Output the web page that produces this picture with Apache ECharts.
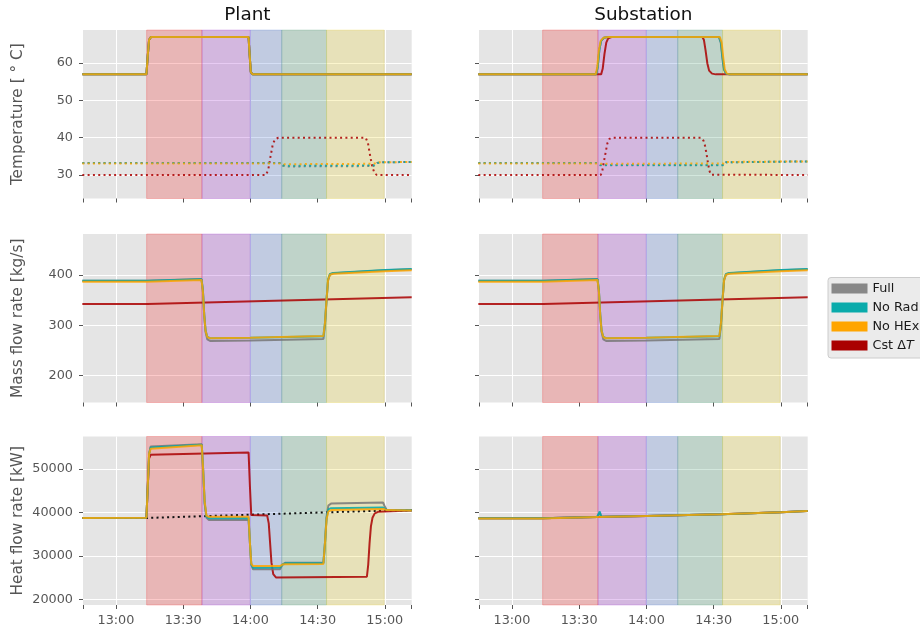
<!DOCTYPE html>
<html><head><meta charset="utf-8">
<script src="https://cdn.jsdelivr.net/npm/echarts@6/dist/echarts.min.js"></script>
<style>html,body{margin:0;padding:0;background:#fff}#c{width:920px;height:632px}</style>
</head><body><div id="c"></div>
<script>
// ---------------- DATA ----------------
const panelTitles = ['Plant', 'Substation'];
const rowNames = ['Temperature [ ° C]', 'Mass flow rate [kg/s]', 'Heat flow rate [kW]'];
const seriesNames = ['Full', 'No Rad', 'No HEx', 'Cst ΔT'];

const xRange = ['12:45.3', '15:12'];
const xTickTimes = ['12:45.3', '13:00', '13:30', '14:00', '14:30', '15:00', '15:12'];
const xLabelTimes = ['13:00', '13:30', '14:00', '14:30', '15:00'];
const xGridTimes = ['13:00', '14:00', '15:00'];

const tempRange = [23.7, 68.9], tempTicks = [30, 40, 50, 60];
const massRange = [146.8, 481.4], massTicks = [200, 300, 400];
const heatRange = [18690, 57510], heatTicks = [20000, 30000, 40000, 50000];

// phase bands (start/end times)
const bandEdges = ['13:13.7', '13:38.4', '14:00', '14:14', '14:34', '14:59.7'];

// Plant supply temperature (all four variants identical)
const plantSupply = [['12:45',57],['13:13.6',57],['13:14.2',62],['13:14.8',66.3],['13:15.6',67],['13:59.2',67],['13:59.7',62],['14:00.2',57.6],['14:01',57],['15:12',57]];
// Plant return temperature
const plantReturnFull  = [['12:45',33.2],['14:13.5',33.2],['14:14.5',32.5],['14:16',32.3],['14:55',32.4],['14:56.5',33.2],['14:58',33.4],['15:12',33.5]];
const plantReturnNoRad = [['12:45',33.2],['14:13.5',33.2],['14:14.5',32.6],['14:16',32.5],['14:55',32.6],['14:56.5',33.2],['14:58',33.4],['15:12',33.5]];
const plantReturnNoHEx = [['12:45',33.1],['14:13.5',33.1],['14:15',32.9],['14:55',33.0],['14:57',33.4],['15:12',33.5]];
const plantReturnCst   = [['12:45',30],['14:07',30],['14:08',31.5],['14:09',35],['14:10',38.2],['14:11',39.6],['14:12.5',40],['14:51.5',40],['14:52.5',38.5],['14:53.5',35],['14:54.5',32],['14:55.5',30.4],['14:56.5',30],['15:12',30]];

// Substation supply temperature
const subSupplyFull  = [['12:45',57],['13:37.6',57],['13:38.3',59],['13:39',63.5],['13:39.8',66],['13:41',66.8],['13:43',67],['14:32.4',67],['14:33.2',65.5],['14:33.9',61.5],['14:34.6',58.3],['14:35.5',57.2],['14:37',57],['15:12',57]];
const subSupplyNoRad = [['12:45',57],['13:37.6',57],['13:38.3',59],['13:39',63.5],['13:39.8',66],['13:41',66.8],['13:43',67],['14:32.5',67],['14:33.3',65.5],['14:34',61.5],['14:34.7',58.3],['14:35.6',57.2],['14:37',57],['15:12',57]];
const subSupplyNoHEx = [['12:45',57],['13:37.4',57],['13:38.1',59],['13:38.8',63.5],['13:39.6',66],['13:40.8',66.8],['13:43',67],['14:32.8',67],['14:33.6',65.5],['14:34.3',61.5],['14:35',58.3],['14:35.9',57.2],['14:37.5',57],['15:12',57]];
const subSupplyCst   = [['12:45',57],['13:39.8',57],['13:40.5',58.5],['13:41.3',62.5],['13:42.1',65.5],['13:43',66.7],['13:44.5',67],['14:25',67],['14:25.7',66.2],['14:26.4',63.5],['14:27.2',60],['14:28',58],['14:29.3',57.2],['14:31',57],['15:12',57]];
// Substation return temperature
const subReturnFull  = [['12:45',33.2],['13:38',33.2],['13:39.5',32.6],['14:34.5',32.6],['14:35.5',33.4],['15:12',33.65]];
const subReturnNoRad = [['12:45',33.2],['13:38',33.2],['13:39.5',32.7],['14:34.5',32.7],['14:35.5',33.4],['15:12',33.65]];
const subReturnNoHEx = [['12:45',33.1],['13:38',33.1],['13:39.5',33.0],['14:34.5',33.1],['14:35.5',33.5],['15:12',33.65]];
const subReturnCst   = [['12:45',30],['13:39.6',30],['13:40.3',31],['13:41',33.5],['13:41.8',36],['13:42.6',38.5],['13:43.5',39.7],['13:44.5',40],['14:24.5',40],['14:25.5',39.2],['14:26.2',37.8],['14:26.9',35.5],['14:27.5',33.2],['14:28.1',31.2],['14:28.8',30.1],['15:12',30]];

// Mass flow rate (plant and substation)
const massFull  = [['12:45',388.7],['13:14',388.7],['13:38.2',392],['13:38.8',370],['13:39.4',320],['13:40',287],['13:40.8',272],['13:42',269],['14:00',269.8],['14:32.6',273],['14:33.3',300],['14:34',350],['14:34.7',390],['14:35.5',401],['14:37',403.5],['15:00',409.5],['15:12',411.5]];
const massNoRad = [['12:45',388.7],['13:14',388.7],['13:38.2',391.5],['13:38.8',370],['13:39.4',322],['13:40',290],['13:40.8',277],['13:42',274.5],['14:00',275.5],['14:32.6',278.5],['14:33.3',305],['14:34',352],['14:34.7',391],['14:35.5',402],['14:37',404],['15:00',410],['15:12',411.8]];
const massNoHEx = [['12:45',386.8],['13:14',386.8],['13:38.2',390],['13:38.8',368],['13:39.4',320],['13:40',289],['13:40.8',276.5],['13:42',274.3],['14:00',275.5],['14:32.6',279],['14:33.3',305],['14:34',352],['14:34.7',390],['14:35.5',400.5],['14:37',402.5],['15:00',407.5],['15:12',409.3]];
const massCst   = [['12:45',342.5],['13:14',342.5],['15:12',356]];

// Plant heat flow rate
const heatDemand  = [['12:45',38750],['13:14',38750],['14:00',39500],['15:00',40450],['15:12',40500]];
const heatFull  = [['12:45',38750],['13:13.6',38800],['13:14.2',46000],['13:14.8',53500],['13:15.5',55200],['13:38.3',55700],['13:38.9',50000],['13:39.6',42000],['13:40.4',38800],['13:41.5',38250],['13:59.2',38300],['13:59.8',33000],['14:00.4',28000],['14:01.2',26900],['14:13.3',26950],['14:14.3',28000],['14:15.5',28400],['14:32.6',28450],['14:33.3',33000],['14:34',39000],['14:34.8',41600],['14:36',42050],['14:59.2',42300],['14:59.9',41500],['15:00.8',40650],['15:12',40500]];
const heatNoRad = [['12:45',38750],['13:13.6',38800],['13:14.2',46000],['13:14.8',53500],['13:15.5',55000],['13:38.3',55600],['13:38.9',50000],['13:39.6',42300],['13:40.4',39100],['13:41.5',38700],['13:59.2',38750],['13:59.8',33000],['14:00.4',28000],['14:01.2',27300],['14:13.3',27350],['14:14.3',28000],['14:15.5',28300],['14:32.6',28350],['14:33.3',33000],['14:34',38700],['14:34.8',40700],['14:36',41000],['14:59.2',41150],['14:59.9',40900],['15:00.8',40600],['15:12',40500]];
const heatNoHEx = [['12:45',38750],['13:13.6',38800],['13:14.2',46000],['13:14.8',53500],['13:15.5',54700],['13:38.3',55500],['13:38.9',50000],['13:39.6',42500],['13:40.4',39300],['13:41.5',39000],['13:59.2',39050],['13:59.8',33000],['14:00.4',28200],['14:01.2',27650],['14:13.3',27700],['14:14.3',28000],['14:15.5',28100],['14:32.6',28150],['14:33.3',33000],['14:34',38500],['14:34.8',40200],['14:36',40550],['14:59.5',40800],['15:00.8',40550],['15:12',40450]];
const heatCst   = [['12:45',38750],['13:13.6',38800],['13:14.2',46000],['13:14.8',52500],['13:15.5',53300],['13:59.2',53800],['13:59.8',46000],['14:00.4',39400],['14:07.5',39300],['14:08.2',37500],['14:08.8',33000],['14:09.4',28500],['14:10.2',25800],['14:11.5',25000],['14:52',25200],['14:52.6',28000],['14:53.2',33000],['14:53.8',36800],['14:54.5',38800],['14:55.5',39800],['14:57',40150],['15:12',40450]];

// Substation heat flow rate
const subHeatFull  = [['12:45',38650],['13:13',38650],['13:38',38970],['13:38.6',39050],['13:39.2',39900],['13:39.9',39000],['14:00',39200],['14:33',39590],['15:00',40050],['15:12',40350]];
const subHeatNoRad = [['12:45',38650],['13:13',38650],['13:38',38970],['13:38.6',39050],['13:39.2',40250],['13:39.9',39000],['14:00',39200],['14:33.2',39600],['14:33.9',39250],['14:34.6',39620],['15:00',40050],['15:12',40350]];
const subHeatNoHEx = [['12:45',38600],['13:13',38600],['13:38',38950],['14:00',39200],['14:33',39590],['15:00',40050],['15:12',40350]];
const subHeatCst   = [['12:45',38650],['13:13',38650],['13:38',38970],['14:00',39200],['14:33',39590],['15:00',40050],['15:12',40350]];

// ---------------- STYLE ----------------
const lineColors = {'Full':'#777777','No Rad':'#00a8a8','No HEx':'#ffa500','Cst ΔT':'#aa0000'};
const legendColors = {'Full':'#888888','No Rad':'#0aabab','No HEx':'#ffa500','Cst ΔT':'#aa0000'};
const bandColors = ['rgba(245,45,45,0.25)','rgba(161,49,209,0.25)','rgba(89,129,217,0.25)','rgba(81,161,121,0.25)','rgba(241,217,57,0.25)'];
const FONT = 'DejaVu Sans';
const TXT = '#555555';

const tm = s => { const p = s.split(':'); return (+p[0]) * 60 + parseFloat(p[1]); };
const fmt = v => { const h = Math.floor(v / 60 + 1e-9); const m = Math.round(v - h * 60); return h + ':' + String(m).padStart(2, '0'); };

const X_MIN = tm(xRange[0]), X_MAX = tm(xRange[1]);
const colLeft = [83, 479], colW = 328.7;
const rowTop = [30, 234, 436.5], rowH = 168.5;
const yRanges = [tempRange, massRange, heatRange];
const yTicks = [tempTicks, massTicks, heatTicks];

const grids = [], xAxes = [], yAxes = [], series = [];
for (let r = 0; r < 3; r++) {
  for (let c = 0; c < 2; c++) {
    const g = r * 2 + c;
    grids.push({left: colLeft[c], top: rowTop[r], width: colW, height: rowH, show: true, backgroundColor: '#E5E5E5', borderWidth: 0});
    xAxes.push({gridIndex: g, type: 'value', min: X_MIN, max: X_MAX, position: 'bottom',
      axisLine: {show: false}, splitLine: {show: false},
      axisTick: {show: true, customValues: xTickTimes.map(tm), length: 4, lineStyle: {color: TXT, width: 1}},
      axisLabel: {show: r === 2, customValues: xLabelTimes.map(tm), formatter: fmt, color: TXT, fontFamily: FONT, fontSize: 12.8, margin: 9}});
    xAxes.push({gridIndex: g, type: 'value', min: X_MIN, max: X_MAX, position: 'top',
      axisLine: {show: false}, axisLabel: {show: false},
      axisTick: {show: false, customValues: xGridTimes.map(tm)},
      splitLine: {show: true, lineStyle: {color: '#ffffff', width: 1}}});
    yAxes.push({gridIndex: g, type: 'value', min: yRanges[r][0], max: yRanges[r][1],
      axisLine: {show: false},
      axisTick: {show: true, customValues: yTicks[r], length: 4, lineStyle: {color: TXT, width: 1}},
      axisLabel: {show: c === 0, customValues: yTicks[r], formatter: v => String(v), color: TXT, fontFamily: FONT, fontSize: 12.8, margin: 10},
      splitLine: {show: true, lineStyle: {color: '#ffffff', width: 1}},
      name: c === 0 ? rowNames[r] : '', nameLocation: 'middle', nameGap: 57,
      nameTextStyle: {color: TXT, fontFamily: FONT, fontSize: 15.3}});
    // phase bands
    const areas = [];
    for (let i = 0; i < bandColors.length; i++) {
      areas.push([{xAxis: tm(bandEdges[i]), itemStyle: {color: bandColors[i], borderColor: bandColors[i], borderWidth: 1}}, {xAxis: tm(bandEdges[i + 1])}]);
    }
    series.push({type: 'line', name: 'bands', xAxisIndex: 2 * g, yAxisIndex: g, data: [], silent: true, z: 1,
      markArea: {silent: true, label: {show: false}, data: areas}});
  }
}

function addLine(name, pts, g, dotted, color) {
  series.push({type: 'line', name: name, xAxisIndex: 2 * g, yAxisIndex: g,
    data: pts.map(p => [tm(p[0]), p[1]]), symbol: 'none', showSymbol: false, silent: true, z: 3,
    color: color || lineColors[name],
    lineStyle: {width: 2, type: dotted ? [2, 3.3] : 'solid', opacity: color ? 1 : 0.85, cap: 'butt'}});
}
// Plant temperature
addLine('Cst ΔT', plantSupply, 0, false); addLine('Full', plantSupply, 0, false);
addLine('No Rad', plantSupply, 0, false); addLine('No HEx', plantSupply, 0, false);
addLine('Cst ΔT', plantReturnCst, 0, true); addLine('Full', plantReturnFull, 0, true);
addLine('No Rad', plantReturnNoRad, 0, true); addLine('No HEx', plantReturnNoHEx, 0, true);
// Substation temperature
addLine('Cst ΔT', subSupplyCst, 1, false); addLine('Full', subSupplyFull, 1, false);
addLine('No Rad', subSupplyNoRad, 1, false); addLine('No HEx', subSupplyNoHEx, 1, false);
addLine('Cst ΔT', subReturnCst, 1, true); addLine('Full', subReturnFull, 1, true);
addLine('No Rad', subReturnNoRad, 1, true); addLine('No HEx', subReturnNoHEx, 1, true);
// Mass flow
for (const g of [2, 3]) {
  addLine('Cst ΔT', massCst, g, false); addLine('Full', massFull, g, false);
  addLine('No Rad', massNoRad, g, false); addLine('No HEx', massNoHEx, g, false);
}
// Heat flow plant
addLine('Demand', heatDemand, 4, true, '#111111');
addLine('Cst ΔT', heatCst, 4, false); addLine('Full', heatFull, 4, false);
addLine('No Rad', heatNoRad, 4, false); addLine('No HEx', heatNoHEx, 4, false);
// Heat flow substation
addLine('Cst ΔT', subHeatCst, 5, false); addLine('Full', subHeatFull, 5, false);
addLine('No Rad', subHeatNoRad, 5, false); addLine('No HEx', subHeatNoHEx, 5, false);

const chart = echarts.init(document.getElementById('c'), null, {renderer: 'canvas'});
chart.setOption({
  animation: false,
  backgroundColor: '#ffffff',
  grid: grids, xAxis: xAxes, yAxis: yAxes, series: series,
  graphic: panelTitles.map((t, c) => ({type: 'text', x: colLeft[c] + colW / 2, y: 15, silent: true,
    style: {text: t, fill: '#111111', font: '18.4px "DejaVu Sans"', textAlign: 'center', textVerticalAlign: 'middle'}})),
  legend: {orient: 'vertical', left: 828, top: 277.5, selectedMode: false,
    data: seriesNames.map(n => ({name: n, itemStyle: {color: legendColors[n], borderWidth: 0, opacity: 1}})),
    icon: 'rect', itemWidth: 36, itemHeight: 10, itemGap: 4, padding: [3.5, 10, 5, 3.5],
    backgroundColor: '#EBEBEB', borderColor: '#CCCCCC', borderWidth: 1, borderRadius: 3,
    formatter: n => n === 'Cst ΔT' ? 'Cst Δ{it|T}' : n,
    textStyle: {fontFamily: FONT, fontSize: 12.8, color: '#1a1a1a', lineHeight: 15,
      rich: {it: {fontFamily: FONT, fontSize: 12.8, fontStyle: 'italic', color: '#1a1a1a', lineHeight: 15}}}}
});
</script></body></html>
